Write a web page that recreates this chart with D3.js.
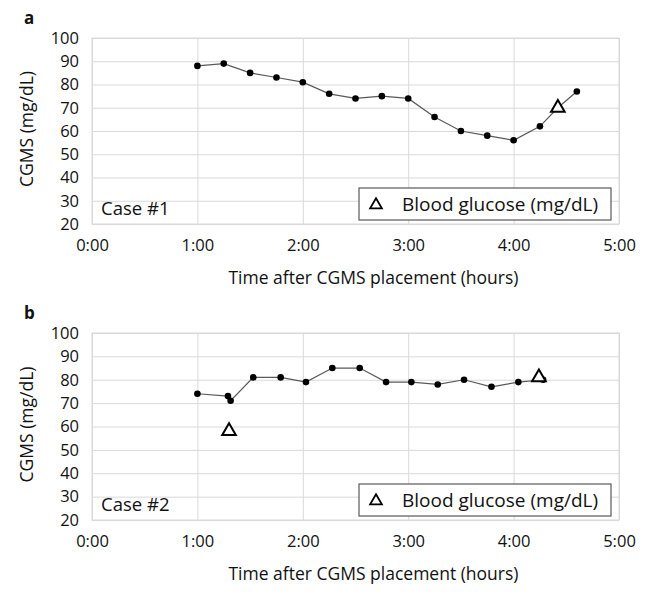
<!DOCTYPE html>
<html><head><meta charset="utf-8">
<script src="https://cdn.jsdelivr.net/npm/d3@7"></script>
<style>
body{margin:0;background:#fff;}
text{font-family:"Open Sans","Noto Sans",sans-serif;fill:#111;}
</style></head>
<body><svg id="c" width="670" height="602"></svg>
<script>
// Panel a (Case #1)
const timesA = [1.0,1.25,1.5,1.75,2.0,2.25,2.5,2.75,3.0,3.25,3.5,3.75,4.0,4.25,4.42,4.6];
const cgmsA  = [88,89,85,83,81,76,74,75,74,66,60,58,56,62,70,77];
const bgTimesA = [4.42];
const bgA      = [70];
// Panel b (Case #2)
const timesB = [1.0,1.29,1.315,1.53,1.79,2.03,2.28,2.54,2.79,3.03,3.28,3.53,3.79,4.045,4.28];
const cgmsB  = [74,73,71,81,81,79,85,85,79,79,78,80,77,79,80];
const bgTimesB = [1.3,4.24];
const bgB      = [58,81];
const xTicks = [0,1,2,3,4,5];
const xTickLabels = ["0:00","1:00","2:00","3:00","4:00","5:00"];
const yTicks = [20,30,40,50,60,70,80,90,100];

const svg = d3.select("#c");
const left = 92, right = 619;
const x = d3.scaleLinear().domain([0,5]).range([left,right]);

function panel(letter, caseLabel, top, bottom, times, cgms, bgT, bgV){
  const y = d3.scaleLinear().domain([20,100]).range([bottom,top]);
  const g = svg.append("g");
  // grid
  g.append("g").attr("transform",`translate(0,${bottom})`)
    .call(d3.axisBottom(x).tickValues(xTicks).tickSize(-(bottom-top)).tickFormat((d,i)=>xTickLabels[i]))
    .call(s=>{s.select(".domain").remove();
      s.selectAll(".tick line").attr("stroke","#d9d9d9");
      s.selectAll(".tick text").attr("dy",0).attr("y",27).attr("font-size",16.5).attr("fill","#111");});
  g.append("g").attr("transform",`translate(${left},0)`)
    .call(d3.axisLeft(y).tickValues(yTicks).tickSize(-(right-left)))
    .call(s=>{s.select(".domain").remove();
      s.selectAll(".tick line").attr("stroke","#d9d9d9");
      s.selectAll(".tick text").attr("x",-13).attr("font-size",16.5).attr("fill","#111");});
  g.append("rect").attr("x",left).attr("y",top).attr("width",right-left).attr("height",bottom-top)
    .attr("fill","none").attr("stroke","#d9d9d9");
  // line
  const pts = times.map((t,i)=>[t,cgms[i]]);
  g.append("path").datum(pts)
    .attr("d",d3.line().x(d=>x(d[0])).y(d=>y(d[1])))
    .attr("fill","none").attr("stroke","#595959").attr("stroke-width",1.2);
  g.selectAll(".dot").data(pts).enter().append("circle")
    .attr("cx",d=>x(d[0])).attr("cy",d=>y(d[1])).attr("r",3.3).attr("fill","#000");
  // triangles
  const tri = d3.symbol().type(d3.symbolTriangle).size(80);
  g.selectAll(".tri").data(bgT.map((t,i)=>[t,bgV[i]])).enter().append("path")
    .attr("d",tri).attr("transform",d=>`translate(${x(d[0])},${y(d[1])})`)
    .attr("fill","#fff").attr("stroke","#000").attr("stroke-width",2);
  // legend
  const lx=359, ly=bottom-36, lw=252, lh=32;
  g.append("rect").attr("x",lx).attr("y",ly).attr("width",lw).attr("height",lh)
    .attr("fill","#fff").attr("stroke","#595959").attr("stroke-width",1.2);
  g.append("path").attr("d",d3.symbol().type(d3.symbolTriangle).size(60))
    .attr("transform",`translate(${lx+17},${ly+lh/2+1})`)
    .attr("fill","#fff").attr("stroke","#000").attr("stroke-width",1.8);
  g.append("text").attr("x",lx+43).attr("y",ly+lh/2).attr("dy","0.35em")
    .attr("font-size",19).text("Blood glucose (mg/dL)");
  // case label
  g.append("text").attr("x",101).attr("y",bottom-15).attr("dy","0.35em")
    .attr("font-size",18.5).text(caseLabel);
  // panel letter
  g.append("text").attr("x",24).attr("y",top-20).attr("dy","0.35em")
    .attr("font-size",17).attr("font-weight","bold").text(letter);
  // axis titles
  g.append("text").attr("transform",`translate(27,${(top+bottom)/2-2}) rotate(-90)`)
    .attr("text-anchor","middle").attr("dy","0.35em").attr("font-size",17.5).text("CGMS (mg/dL)");
  g.append("text").attr("x",(left+right)/2+18).attr("y",bottom+54).attr("dy","0.35em")
    .attr("text-anchor","middle").attr("font-size",17.5).text("Time after CGMS placement (hours)");
}
panel("a","Case #1",38,224,timesA,cgmsA,bgTimesA,bgA);
panel("b","Case #2",333,520,timesB,cgmsB,bgTimesB,bgB);
</script></body></html>
